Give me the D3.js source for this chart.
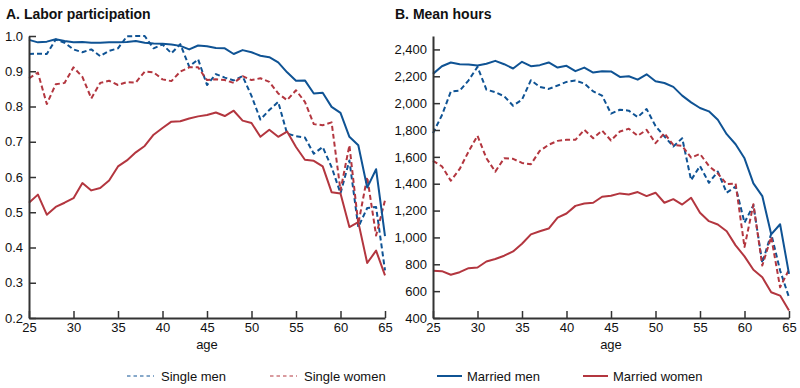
<!DOCTYPE html>
<html>
<head>
<meta charset="utf-8">
<script src="https://cdn.jsdelivr.net/npm/d3@7"></script>
<style>
  body { margin: 0; background: #fff; }
  svg { display: block; font-family: "Liberation Sans", Arial, sans-serif; }
</style>
</head>
<body>
<svg id="chart"></svg>
<script>
const ages = [25,26,27,28,29,30,31,32,33,34,35,36,37,38,39,40,41,42,43,44,45,
  46,47,48,49,50,51,52,53,54,55,56,57,58,59,60,61,62,63,64,65];

// panel A: labor participation
const lpSingleMen = [0.949,0.95,0.949,0.99,0.981,0.962,0.954,0.962,0.943,0.958,0.965,0.999,1.0,1.0,0.965,0.976,0.951,0.977,0.913,0.934,0.861,
  0.892,0.882,0.874,0.886,0.83,0.763,0.79,0.813,0.723,0.716,0.712,0.666,0.685,0.628,0.554,0.647,0.458,0.512,0.515,0.335];
const lpSingleWomen = [0.88,0.896,0.807,0.863,0.867,0.911,0.884,0.823,0.867,0.873,0.861,0.869,0.868,0.899,0.897,0.877,0.872,0.899,0.911,0.911,0.875,
  0.877,0.875,0.867,0.886,0.875,0.88,0.87,0.837,0.818,0.846,0.813,0.75,0.747,0.755,0.562,0.69,0.467,0.6,0.434,0.534];
const lpMarriedMen = [0.989,0.982,0.984,0.991,0.986,0.982,0.983,0.981,0.981,0.982,0.982,0.983,0.986,0.981,0.979,0.978,0.976,0.972,0.962,0.973,0.971,
  0.966,0.965,0.949,0.96,0.954,0.944,0.94,0.925,0.897,0.873,0.874,0.837,0.839,0.799,0.782,0.714,0.69,0.57,0.622,0.432];
const lpMarriedWomen = [0.527,0.55,0.493,0.515,0.527,0.54,0.583,0.562,0.569,0.59,0.63,0.647,0.67,0.688,0.72,0.739,0.757,0.758,0.766,0.772,0.776,
  0.783,0.773,0.788,0.76,0.753,0.714,0.734,0.714,0.729,0.685,0.649,0.646,0.63,0.557,0.553,0.458,0.472,0.356,0.391,0.321];

// panel B: mean hours
const hrSingleMen = [1776,1910,2086,2093,2170,2270,2101,2081,2051,1981,2026,2171,2121,2106,2131,2158,2168,2146,2088,2056,1922,
  1951,1944,1896,1956,1830,1752,1677,1739,1427,1532,1407,1490,1333,1378,1110,1240,810,1028,754,554];
const hrSingleWomen = [1570,1530,1422,1510,1640,1757,1590,1490,1590,1585,1555,1545,1645,1690,1719,1727,1727,1801,1739,1796,1722,
  1789,1809,1757,1801,1702,1776,1689,1682,1594,1622,1532,1477,1397,1402,928,1247,791,1003,629,760];
const hrMarriedMen = [2218,2275,2303,2290,2288,2280,2293,2315,2290,2258,2308,2275,2283,2303,2265,2278,2238,2265,2228,2238,2236,
  2195,2200,2175,2215,2163,2150,2121,2056,2006,1964,1939,1876,1769,1694,1589,1402,1308,1023,1098,729];
const hrMarriedWomen = [751,749,722,741,771,776,821,839,864,896,953,1023,1046,1066,1148,1178,1235,1253,1258,1303,1311,
  1328,1320,1338,1308,1333,1258,1285,1245,1295,1183,1121,1096,1046,941,859,759,704,592,567,455];

const xTicks = [25,30,35,40,45,50,55,60,65];
const lpTicks = [0.2,0.3,0.4,0.5,0.6,0.7,0.8,0.9,1.0];
const hrTicks = [400,600,800,1000,1200,1400,1600,1800,2000,2200,2400];

const seriesNames = ["Single men", "Single women", "Married men", "Married women"];

const blue = "#0f5394";
const red = "#b3363f";
const styles = {
  "Single men": { color: blue, dash: "5,3" },
  "Single women": { color: red, dash: "5,3" },
  "Married men": { color: blue, dash: null },
  "Married women": { color: red, dash: null }
};

const width = 800, height = 388;
const svg = d3.select("#chart").attr("width", width).attr("height", height);
svg.append("rect").attr("width", width).attr("height", height).attr("fill", "#fff");

const plotTop = 36, plotBottom = 318;

const panels = [
  { title: "A. Labor participation", titleX: 6, x0: 29, x1: 385,
    domain: [0.2, 1.0], ticks: lpTicks, fmt: d3.format(".1f"),
    series: [lpSingleMen, lpSingleWomen, lpMarriedMen, lpMarriedWomen] },
  { title: "B. Mean hours", titleX: 395, x0: 433, x1: 789,
    domain: [400, 2500], ticks: hrTicks, fmt: d3.format(","),
    series: [hrSingleMen, hrSingleWomen, hrMarriedMen, hrMarriedWomen] }
];

panels.forEach(p => {
  const x = d3.scaleLinear().domain([25, 65]).range([p.x0, p.x1]);
  const y = d3.scaleLinear().domain(p.domain).range([plotBottom, plotTop]);

  svg.append("text")
    .attr("x", p.titleX).attr("y", 19)
    .attr("font-size", 14).attr("font-weight", "bold")
    .attr("fill", "#111")
    .text(p.title);

  const line = d3.line().x((d, i) => x(ages[i])).y(d => y(d));

  p.series.forEach((vals, k) => {
    const st = styles[seriesNames[k]];
    svg.append("path")
      .datum(vals)
      .attr("d", line)
      .attr("fill", "none")
      .attr("stroke", st.color)
      .attr("stroke-width", 2)
      .attr("stroke-dasharray", st.dash)
      .attr("stroke-linejoin", "round");
  });

  const yAxis = svg.append("g")
    .attr("transform", `translate(${p.x0},0)`)
    .call(d3.axisLeft(y).tickValues(p.ticks).tickFormat(p.fmt)
      .tickSizeInner(-7).tickSizeOuter(0).tickPadding(6));

  const xAxis = svg.append("g")
    .attr("transform", `translate(0,${plotBottom})`)
    .call(d3.axisBottom(x).tickValues(xTicks)
      .tickSizeInner(-7).tickSizeOuter(0).tickPadding(5));

  [yAxis, xAxis].forEach(g => {
    g.select(".domain").attr("stroke", "#333").attr("stroke-width", 2);
    g.selectAll(".tick line").attr("stroke", "#333").attr("stroke-width", 1.5);
    g.selectAll(".tick text").attr("fill", "#111")
      .attr("font-size", 13).attr("font-family", "Liberation Sans, Arial, sans-serif");
  });

  svg.append("text")
    .attr("x", (p.x0 + p.x1) / 2).attr("y", 349)
    .attr("text-anchor", "middle")
    .attr("font-size", 13).attr("fill", "#111")
    .text("age");
});

// legend
const legendX = [127, 270, 437, 583];
seriesNames.forEach((name, i) => {
  const st = styles[name];
  const g = svg.append("g").attr("transform", `translate(${legendX[i]},376)`);
  g.append("line")
    .attr("x1", 0).attr("x2", st.dash ? 27 : 25)
    .attr("y1", 0).attr("y2", 0)
    .attr("stroke", st.color)
    .attr("stroke-width", st.dash ? 1 : 2)
    .attr("stroke-dasharray", st.dash ? "3.5,3" : null);
  g.append("text")
    .attr("x", st.dash ? 34 : 30).attr("y", 5)
    .attr("font-size", 13).attr("fill", "#111")
    .text(name);
});
</script>
</body>
</html>
